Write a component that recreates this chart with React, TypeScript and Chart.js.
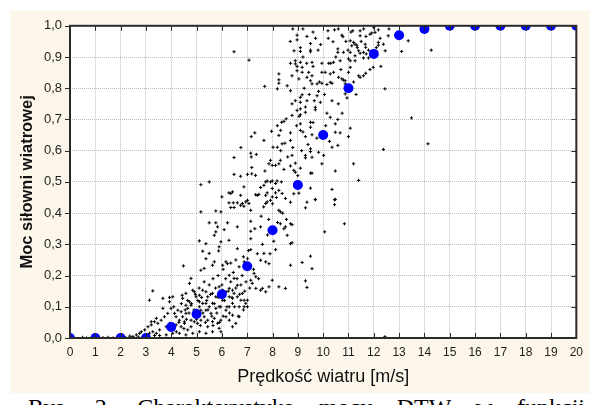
import React, { useEffect, useRef } from "react";
import { Chart, registerables } from "chart.js";

Chart.register(...registerables);

type P = [number, number];

// Wind speed categories (m/s) for the reference power curve
const speeds = [0, 1, 2, 3, 4, 5, 6, 7, 8, 9, 10, 11, 12, 13, 14, 15, 16, 17, 18, 19, 20];
// Relative power of the reference power curve (blue markers)
const powerCurve = [0, 0, 0, 0, 0.035, 0.077, 0.14, 0.23, 0.345, 0.49, 0.65, 0.8, 0.91, 0.97, 0.99, 1, 1, 1, 1, 1, 1];

const xTickLabels = ["0", "1", "2", "3", "4", "5", "6", "7", "8", "9", "10", "11", "12", "13", "14", "15", "16", "17", "18", "19", "20"];
const yTickLabels = ["0,0", "0,1", "0,2", "0,3", "0,4", "0,5", "0,6", "0,7", "0,8", "0,9", "1,0"];

// Figure caption under the chart (cut by the picture edge)
const captionText = "Rys. 2. Charakterystyka mocy DTW w funkcji";

// Measured points lying on the axis (calm winds)
const axisPoints: P[] = [
  [0.5, 0.002], [0.65, 0.0], [1.3, 0.001], [1.5, 0.002], [1.7, 0.0], [2.2, 0.001], [2.45, 0.002], [2.7, 0.003],
  [12.44, 0.004],
];

// Measured points, low wind range (y < ~0.27)
const lowWindPoints: P[] = [
  [4.48, 0.231], [4.78, 0.191], [5.17, 0.217], [5.3, 0.223], [5.7, 0.244], [5.63, 0.233], [5.37, 0.254], [6.16, 0.244],
  [6.22, 0.238], [6.03, 0.233], [6.68, 0.228], [6.88, 0.244], [7.01, 0.254], [7.53, 0.249], [7.73, 0.244], [7.86, 0.238],
  [6.48, 0.191], [6.29, 0.201], [6.61, 0.169], [7.27, 0.207], [7.34, 0.196], [7.2, 0.175], [7.14, 0.185], [7.53, 0.153],
  [7.73, 0.148], [7.6, 0.159], [7.34, 0.159], [7.99, 0.185], [7.86, 0.164], [8.25, 0.164], [8.51, 0.159], [4.72, 0.175],
  [3.27, 0.151], [3.14, 0.121], [3.67, 0.127], [3.93, 0.13], [4.06, 0.132], [4.43, 0.137], [4.45, 0.127], [4.58, 0.143],
  [4.85, 0.153], [4.91, 0.148], [4.98, 0.132], [5.11, 0.137], [5.24, 0.153], [5.37, 0.148], [5.44, 0.132], [5.63, 0.143],
  [5.76, 0.132], [5.89, 0.164], [6.03, 0.153], [6.16, 0.148], [6.29, 0.159], [6.42, 0.153], [6.48, 0.143], [6.61, 0.132],
  [6.75, 0.121], [6.81, 0.143], [6.88, 0.121], [6.94, 0.111], [7.01, 0.121], [6.42, 0.111], [6.29, 0.1], [6.16, 0.089],
  [6.03, 0.121], [5.89, 0.1], [5.76, 0.095], [5.63, 0.111], [5.5, 0.1], [5.37, 0.089], [5.24, 0.111], [5.11, 0.1],
  [4.98, 0.089], [4.78, 0.105], [4.65, 0.095], [4.58, 0.079], [4.45, 0.068], [4.32, 0.057], [4.26, 0.089], [4.13, 0.079],
  [3.99, 0.095], [3.86, 0.079], [3.73, 0.068], [3.6, 0.057], [3.47, 0.047], [3.34, 0.052], [3.21, 0.042], [3.08, 0.036],
  [2.95, 0.026], [2.82, 0.02], [2.75, 0.015], [2.62, 0.01], [2.49, 0.004], [2.36, 0.006], [3.54, 0.026], [3.41, 0.015],
  [3.27, 0.02], [3.14, 0.015], [3.8, 0.036], [3.93, 0.047], [4.06, 0.031], [4.19, 0.042], [4.39, 0.036], [4.52, 0.047],
  [4.65, 0.026], [4.78, 0.036], [4.91, 0.052], [5.04, 0.047], [5.17, 0.057], [5.3, 0.068], [5.44, 0.057], [5.57, 0.079],
  [5.7, 0.063], [5.83, 0.047], [5.89, 0.031], [5.96, 0.02], [5.63, 0.02], [5.37, 0.015], [5.11, 0.02], [4.85, 0.015],
  [4.58, 0.01], [4.32, 0.015], [4.06, 0.015], [3.8, 0.01], [3.54, 0.008], [3.34, 0.008], [4.19, 0.068], [4.39, 0.084],
  [4.58, 0.105], [4.72, 0.116], [5.11, 0.116], [5.37, 0.111], [6.29, 0.132], [6.42, 0.127], [6.68, 0.1], [6.88, 0.1],
  [7.01, 0.1], [6.42, 0.073], [6.29, 0.057], [6.16, 0.068], [5.96, 0.057], [5.63, 0.052], [5.44, 0.036], [6.68, 0.068],
  [6.55, 0.047], [6.42, 0.036], [5.04, 0.079], [5.17, 0.089], [4.91, 0.068], [4.78, 0.057], [4.52, 0.052], [3.67, 0.095],
  [3.93, 0.116], [3.41, 0.063], [3.21, 0.052],
  [4.2, 0.02], [4.3, 0.05], [4.5, 0.03], [4.6, 0.06], [4.7, 0.08], [4.8, 0.11], [4.9, 0.09], [5.0, 0.06],
  [5.05, 0.12], [5.15, 0.04], [5.2, 0.13], [5.25, 0.08], [5.35, 0.05], [5.4, 0.12], [5.45, 0.09], [5.55, 0.14],
  [5.6, 0.07], [5.65, 0.04], [5.7, 0.11], [5.75, 0.16], [5.8, 0.08], [5.85, 0.13], [5.9, 0.05], [5.95, 0.1],
  [6.0, 0.17], [6.05, 0.07], [6.1, 0.12], [6.15, 0.19], [6.2, 0.1], [6.25, 0.15], [6.3, 0.08], [6.35, 0.18],
  [6.4, 0.13], [6.45, 0.21], [6.5, 0.1], [6.55, 0.16], [6.6, 0.19], [6.65, 0.07], [6.7, 0.14], [6.75, 0.17],
  [6.8, 0.2], [6.85, 0.09], [6.9, 0.15], [6.95, 0.18], [4.1, 0.1], [4.4, 0.11], [4.55, 0.09], [4.65, 0.12],
  [4.95, 0.14], [5.1, 0.16], [5.3, 0.18], [5.5, 0.17], [5.65, 0.19], [5.85, 0.2], [6.05, 0.22], [6.35, 0.24],
  [6.55, 0.25], [6.85, 0.26], [7.05, 0.28], [7.1, 0.16], [7.25, 0.22], [7.4, 0.27], [7.45, 0.19],
];

// Measured points, middle range (left of ~8.6 m/s, y > ~0.27)
const midWindPoints: P[] = [
  [6.48, 0.578], [7.14, 0.592], [7.36, 0.588], [7.16, 0.58], [7.92, 0.569], [7.86, 0.558], [7.99, 0.553], [8.12, 0.553],
  [8.25, 0.558], [8.31, 0.569], [7.18, 0.546], [7.18, 0.526], [7.01, 0.524], [6.74, 0.518], [6.48, 0.524], [7.33, 0.521],
  [7.7, 0.535], [7.73, 0.5], [7.79, 0.503], [7.92, 0.5], [7.99, 0.503], [8.12, 0.495], [8.18, 0.503], [7.66, 0.489],
  [7.53, 0.482], [5.17, 0.491], [5.5, 0.5], [6.87, 0.484], [6.28, 0.465], [6.42, 0.468], [6.35, 0.463], [6.0, 0.452],
  [6.74, 0.457], [7.33, 0.459], [7.4, 0.457], [7.46, 0.46], [7.79, 0.465], [7.99, 0.479], [8.12, 0.465], [8.25, 0.473],
  [8.38, 0.463], [8.51, 0.447], [6.28, 0.433], [6.45, 0.433], [6.61, 0.433], [6.81, 0.431], [6.94, 0.436], [7.01, 0.441],
  [7.07, 0.431], [6.87, 0.422], [6.74, 0.425], [6.48, 0.418], [6.35, 0.418], [7.73, 0.431], [7.79, 0.436], [7.92, 0.441],
  [7.99, 0.452], [7.73, 0.457], [5.17, 0.404], [5.76, 0.407], [5.96, 0.404], [7.14, 0.409], [8.25, 0.409], [8.31, 0.404],
  [5.5, 0.369], [5.76, 0.369], [5.83, 0.356], [5.76, 0.34], [5.7, 0.329], [6.09, 0.347], [6.22, 0.369], [6.61, 0.356],
  [7.14, 0.374], [7.14, 0.342], [7.14, 0.318], [7.53, 0.356], [8.31, 0.366], [8.51, 0.356], [8.45, 0.35], [8.58, 0.329],
  [5.11, 0.311], [5.37, 0.302], [5.96, 0.308], [6.28, 0.313], [5.89, 0.292], [6.61, 0.286], [7.14, 0.283], [7.66, 0.271],
  [8.12, 0.283], [5.24, 0.278], [5.5, 0.271], [5.87, 0.279],
  [7.6, 0.3], [7.8, 0.33], [7.9, 0.27], [8.05, 0.31], [8.2, 0.37], [8.4, 0.4], [8.55, 0.38], [7.3, 0.35],
  [7.55, 0.39], [7.65, 0.42], [7.85, 0.38], [8.0, 0.43], [8.15, 0.45], [8.35, 0.5], [8.45, 0.54], [8.6, 0.58],
  [6.48, 0.917], [7.07, 0.89], [7.69, 0.806], [8.25, 0.846], [8.25, 0.827], [8.25, 0.816], [8.19, 0.798], [8.58, 0.808],
  [8.54, 0.702], [8.45, 0.694], [8.36, 0.691], [8.19, 0.68], [7.96, 0.662], [8.25, 0.649], [8.49, 0.624], [8.32, 0.6],
  [8.02, 0.611], [8.19, 0.611], [7.66, 0.633], [7.16, 0.645], [7.3, 0.657], [6.75, 0.61], [8.38, 0.622], [8.32, 0.665],
];

// Measured points, high wind range (right of ~8.6 m/s)
const highWindPoints: P[] = [
  [8.97, 0.97], [8.97, 0.955], [9.36, 0.966], [10.19, 0.984], [10.45, 0.987], [10.74, 0.97], [10.78, 0.965], [10.39, 0.949],
  [11.17, 0.984], [11.46, 0.984], [11.46, 0.968], [11.69, 0.966], [11.85, 0.973], [11.92, 0.977], [12.05, 0.979], [12.18, 0.987],
  [12.57, 0.968], [11.07, 0.952], [11.2, 0.947], [11.26, 0.941], [11.13, 0.936], [11.33, 0.938], [11.66, 0.941], [11.68, 0.931],
  [12.18, 0.947], [12.18, 0.938], [12.38, 0.941], [13.36, 0.952], [13.1, 0.918], [14.27, 0.922], [9.5, 0.943], [9.5, 0.922],
  [9.5, 0.917], [9.8, 0.922], [9.1, 0.93], [9.1, 0.918], [10.58, 0.926], [10.58, 0.915], [10.8, 0.915], [10.98, 0.922],
  [11.07, 0.915], [11.4, 0.92], [11.46, 0.912], [11.59, 0.915], [11.79, 0.922], [11.26, 0.904], [10.67, 0.888], [10.41, 0.883],
  [10.22, 0.88], [9.95, 0.88], [9.56, 0.883], [9.1, 0.883], [8.9, 0.888], [8.9, 0.878], [8.71, 0.88], [11.0, 0.894],
  [11.07, 0.888], [11.26, 0.888], [11.59, 0.897], [11.79, 0.897], [11.98, 0.867], [12.28, 0.87], [12.44, 0.798], [8.97, 0.87],
  [9.17, 0.867], [8.97, 0.856], [9.17, 0.851], [9.43, 0.851], [9.56, 0.84], [9.95, 0.851], [10.08, 0.851], [10.28, 0.846],
  [10.41, 0.851], [10.61, 0.835], [10.74, 0.83], [10.8, 0.826], [11.0, 0.851], [11.07, 0.867], [11.4, 0.84], [11.46, 0.835],
  [11.59, 0.84], [11.68, 0.848], [8.77, 0.84], [9.04, 0.83], [9.36, 0.835], [9.5, 0.824], [9.56, 0.814], [9.76, 0.814],
  [9.95, 0.816], [10.15, 0.812], [10.28, 0.819], [10.35, 0.816], [10.87, 0.824], [10.87, 0.814], [9.82, 0.79], [9.76, 0.776],
  [9.17, 0.779], [9.1, 0.771], [8.9, 0.76], [9.1, 0.755], [9.36, 0.76], [9.89, 0.755], [10.35, 0.76], [10.87, 0.782],
  [10.94, 0.769], [8.71, 0.792], [8.77, 0.75], [8.97, 0.729], [9.1, 0.734], [9.3, 0.723], [9.69, 0.739], [9.69, 0.731],
  [8.77, 0.713], [9.1, 0.715], [9.5, 0.691], [9.5, 0.675], [9.1, 0.686], [9.1, 0.665], [9.3, 0.645], [9.56, 0.651],
  [8.71, 0.657], [8.71, 0.633], [10.28, 0.707], [10.58, 0.7], [10.48, 0.686], [10.48, 0.659], [10.67, 0.657], [11.07, 0.672],
  [11.0, 0.645], [10.58, 0.617], [10.35, 0.611], [9.82, 0.595], [10.02, 0.585], [9.5, 0.606], [9.5, 0.597], [9.3, 0.585],
  [9.3, 0.577], [9.56, 0.579], [9.95, 0.558], [8.77, 0.585], [8.71, 0.551], [8.84, 0.537], [8.9, 0.531], [9.1, 0.544],
  [9.5, 0.528], [9.56, 0.528], [10.48, 0.535], [11.2, 0.558], [11.4, 0.505], [12.38, 0.604], [13.49, 0.705], [14.14, 0.622],
  [9.04, 0.464], [9.5, 0.48], [10.35, 0.476], [9.69, 0.444], [10.48, 0.444],
  [8.84, 0.462], [8.71, 0.435], [9.36, 0.435], [9.3, 0.417], [9.69, 0.443], [10.45, 0.443], [10.45, 0.427], [8.71, 0.366],
  [8.77, 0.363], [10.06, 0.34], [10.84, 0.366], [8.71, 0.302], [8.77, 0.305], [8.71, 0.233], [9.17, 0.242], [9.5, 0.262],
  [9.56, 0.222], [9.3, 0.183], [9.36, 0.162],
  [9.2, 0.9], [9.35, 0.88], [9.6, 0.87], [9.25, 0.8], [9.45, 0.78], [9.65, 0.76], [9.85, 0.82], [10.05, 0.78],
  [10.15, 0.72], [10.3, 0.88], [10.5, 0.9], [10.7, 0.86], [10.9, 0.95], [11.1, 0.98], [11.35, 0.93], [11.5, 0.95],
  [11.7, 0.91], [11.85, 0.86], [12.1, 0.93], [12.25, 0.96], [12.45, 0.92], [12.6, 0.99], [8.8, 0.99], [9.2, 0.99],
  [9.6, 0.98], [9.7, 0.96], [9.9, 0.94], [10.2, 0.96], [10.6, 0.99], [11.6, 0.99], [12.0, 0.995], [8.7, 0.95],
  [8.85, 0.92], [9.05, 0.71], [9.2, 0.66], [9.4, 0.62], [9.6, 0.69], [9.75, 0.64], [9.15, 0.6], [8.9, 0.56],
  [9.0, 0.52], [8.8, 0.61], [8.95, 0.68], [9.3, 0.74], [10.1, 0.68], [10.25, 0.63], [10.6, 0.75], [10.75, 0.72],
  [11.2, 0.82], [11.3, 0.78],
];

const CREAM = "#fcf7ea";

export default function App() {
  const canvasRef = useRef<HTMLCanvasElement>(null);

  useEffect(() => {
    document.body.style.margin = "0";
    const canvas = canvasRef.current;
    if (!canvas) return;

    const measured = [...axisPoints, ...lowWindPoints, ...midWindPoints, ...highWindPoints].map(([x, y]) => ({ x, y }));
    const curve = speeds.map((x, i) => ({ x, y: powerCurve[i] }));

    const framePlugin = {
      id: "frameAndBackground",
      beforeDraw(chart: any) {
        const { ctx, chartArea: a, width, height } = chart;
        ctx.save();
        ctx.fillStyle = CREAM;
        ctx.fillRect(0, 0, width, height);
        ctx.fillStyle = "#ffffff";
        ctx.fillRect(a.left, a.top, a.right - a.left, a.bottom - a.top);
        ctx.restore();
      },
      afterDatasetsDraw(chart: any) {
        const { ctx, chartArea: a, scales } = chart;
        const xs = scales.x;
        const ys = scales.y;
        ctx.save();
        ctx.strokeStyle = "#2b2b2b";
        ctx.lineWidth = 1;
        ctx.beginPath();
        xs.ticks.forEach((t: any) => {
          const px = Math.round(xs.getPixelForValue(t.value)) + 0.5;
          ctx.moveTo(px, a.top);
          ctx.lineTo(px, a.top + 5);
          ctx.moveTo(px, a.bottom);
          ctx.lineTo(px, a.bottom - 5);
        });
        ys.ticks.forEach((t: any) => {
          const py = Math.round(ys.getPixelForValue(t.value)) + 0.5;
          ctx.moveTo(a.left - 5, py);
          ctx.lineTo(a.left, py);
          ctx.moveTo(a.right, py);
          ctx.lineTo(a.right - 5, py);
        });
        ctx.stroke();
        ctx.lineWidth = 2;
        ctx.strokeRect(a.left, a.top, a.right - a.left, a.bottom - a.top);
        ctx.restore();
      },
    };

    const chart = new Chart(canvas, {
      type: "scatter",
      data: {
        datasets: [
          {
            label: "Krzywa mocy",
            data: curve,
            pointRadius: 5,
            pointHoverRadius: 5,
            pointBackgroundColor: "#0000ff",
            pointBorderColor: "#0000ff",
            pointBorderWidth: 0,
            showLine: false,
            clip: 0,
            order: 0,
          },
          {
            label: "Pomiary",
            data: measured,
            pointStyle: "cross",
            pointRadius: 1.6,
            pointHoverRadius: 1.6,
            pointBorderColor: "#000000",
            pointBackgroundColor: "#000000",
            pointBorderWidth: 1,
            showLine: false,
            clip: 0,
            order: 1,
          },
        ],
      },
      options: {
        animation: false,
        responsive: false,
        events: [],
        layout: { padding: { left: 0, right: 11, top: 15, bottom: 0 } },
        plugins: {
          legend: { display: false },
          tooltip: { enabled: false },
        },
        scales: {
          x: {
            type: "linear",
            min: 0,
            max: 20,
            afterFit: (s: any) => {
              s.height = 55;
            },
            grid: { color: "#bdbdbd", lineWidth: 1, drawTicks: false },
            border: { display: false, dash: [1, 1] },
            ticks: {
              stepSize: 1,
              autoSkip: false,
              maxRotation: 0,
              padding: 7,
              color: "#1e1e1e",
              font: { family: "'Liberation Sans', Arial, sans-serif", size: 12 },
              callback: (v: any) => xTickLabels[Math.round(Number(v))],
            },
            title: {
              display: true,
              text: "Prędkość wiatru [m/s]",
              color: "#111111",
              font: { family: "'Liberation Sans', Arial, sans-serif", size: 18 },
              padding: { top: 0, bottom: 5 },
            },
          },
          y: {
            type: "linear",
            min: 0,
            max: 1,
            afterFit: (s: any) => {
              s.width = 60;
            },
            grid: { color: "#bdbdbd", lineWidth: 1, drawTicks: false },
            border: { display: false, dash: [1, 1] },
            ticks: {
              stepSize: 0.1,
              padding: 8,
              color: "#1e1e1e",
              font: { family: "'Liberation Sans', Arial, sans-serif", size: 13 },
              callback: (v: any) => yTickLabels[Math.round(Number(v) * 10)],
            },
            title: {
              display: true,
              text: "Moc siłowni wiatrowej",
              color: "#111111",
              font: { family: "'Liberation Sans', Arial, sans-serif", size: 16.5, weight: "bold" },
              padding: { top: 8, bottom: 0 },
            },
          },
        },
      },
      plugins: [framePlugin],
    } as any);

    return () => {
      chart.destroy();
    };
  }, []);

  return (
    <div style={{ position: "relative", width: 590, height: 405, overflow: "hidden", background: "#ffffff" }}>
      <canvas
        ref={canvasRef}
        width={580}
        height={383}
        style={{ position: "absolute", left: 10, top: 10, width: 580, height: 383 }}
      />
      <div
        style={{
          position: "absolute",
          left: 28,
          top: 393,
          width: 557,
          fontFamily: "'Liberation Serif', 'Times New Roman', serif",
          fontSize: 24,
          lineHeight: "28px",
          color: "#000",
          textAlign: "justify",
          textAlignLast: "justify",
        }}
      >
        {captionText}
      </div>
    </div>
  );
}
